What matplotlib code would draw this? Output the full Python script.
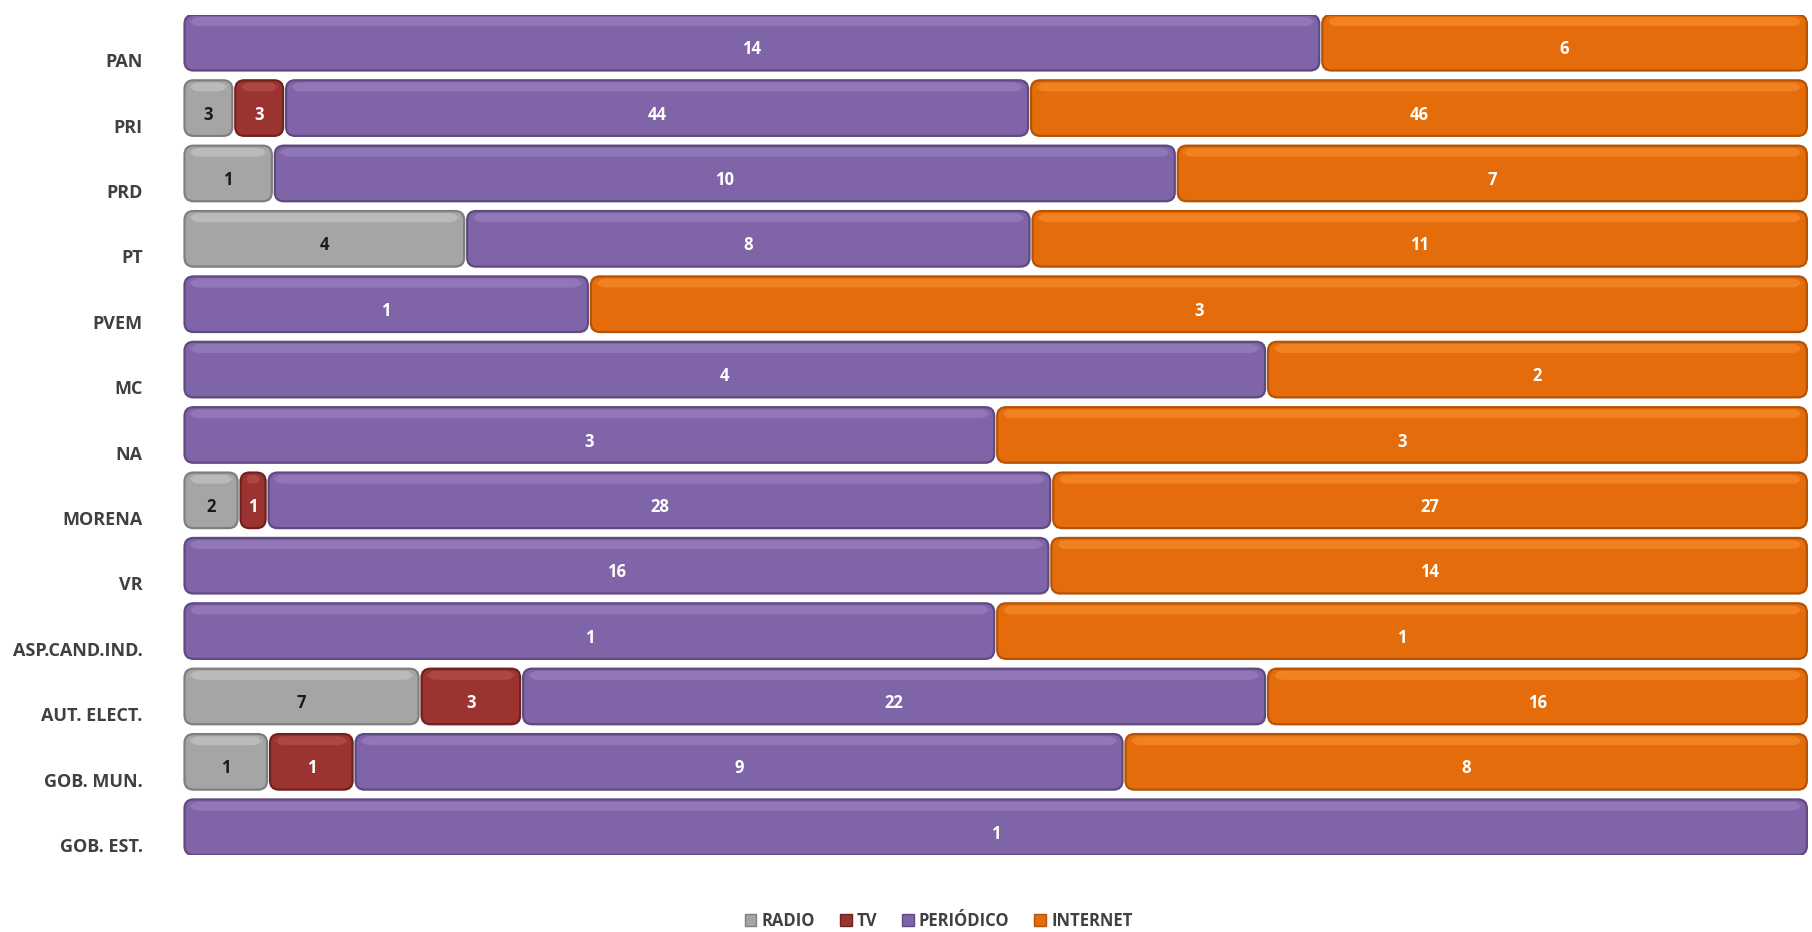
import matplotlib
matplotlib.use("Agg")
import matplotlib.pyplot as plt
from matplotlib.patches import FancyBboxPatch, Patch
import numpy as np

categories = ["PAN", "PRI", "PRD", "PT", "PVEM", "MC", "NA", "MORENA", "VR",
              "ASP.CAND.IND.", "AUT. ELECT.", "GOB. MUN.", "GOB. EST."]
series_names = ["RADIO", "TV", "PERIÓDICO", "INTERNET"]
radio     = [0, 3, 1, 4, 0, 0, 0, 2, 0, 0, 7, 1, 0]
tv        = [0, 3, 0, 0, 0, 0, 0, 1, 0, 0, 3, 1, 0]
periodico = [14, 44, 10, 8, 1, 4, 3, 28, 16, 1, 22, 9, 1]
internet  = [6, 46, 7, 11, 3, 2, 3, 27, 14, 1, 16, 8, 0]

colors = ["#A5A5A5", "#9B3431", "#8064A8", "#E46C0A"]
edge_colors = ["#7F7F7F", "#6E2220", "#5F4A80", "#B45308"]
light_colors = ["#C4C4C4", "#B4504C", "#9A80C0", "#F98A2C"]
text_colors = ["#1A1A1A", "white", "white", "white"]

plt.rcParams['font.family'] = ['Open Sans', 'DejaVu Sans']

fig = plt.figure(figsize=(18.12, 9.32), dpi=100)
ax = fig.add_axes([0.101, 0.0826, 0.897, 0.9014])

data = np.array([radio, tv, periodico, internet], dtype=float)
totals = data.sum(axis=0)
frac = data / totals
y = np.arange(len(categories))
bar_h = 0.85

ax.set_xlim(0, 1)
ax.set_ylim(len(categories) - 1 + bar_h / 2, -bar_h / 2)

ax_w_px = 0.897 * 1812
ax_h_px = 0.9014 * 932
x_per_px = 1.0 / ax_w_px
y_per_px = (len(categories) - 1 + bar_h) / ax_h_px
aspect = y_per_px / x_per_px

left = np.zeros(len(categories))
for i, name in enumerate(series_names):
    bars = ax.barh(y, frac[i], left=left, height=bar_h, color=colors[i], label=name)
    for j, rect in enumerate(bars):
        val = data[i, j]
        rect.set_visible(False)
        if val <= 0:
            continue
        x0, y0 = rect.get_x(), rect.get_y()
        w, h = rect.get_width(), rect.get_height()
        r = min(9 * x_per_px, w / 2.2)
        p = FancyBboxPatch((x0 + 1.5 * x_per_px, y0), w - 3 * x_per_px, h,
                           boxstyle=f"round,pad=0,rounding_size={r}",
                           mutation_aspect=aspect,
                           facecolor=colors[i], edgecolor=edge_colors[i],
                           linewidth=1.6, zorder=2)
        ax.add_patch(p)
        hh = h * 0.16
        p2 = FancyBboxPatch((x0 + 1.5 * x_per_px + r * 0.6, y0 + h * 0.04),
                            max(w - 3 * x_per_px - r * 1.2, 1e-4), hh,
                            boxstyle=f"round,pad=0,rounding_size={min(r, w / 4)}",
                            mutation_aspect=aspect,
                            facecolor=light_colors[i], edgecolor="none",
                            alpha=0.7, zorder=3)
        ax.add_patch(p2)
        ax.text(x0 + w / 2, y[j] + 0.1, f"{int(val)}", ha="center", va="center",
                color=text_colors[i], fontsize=12, fontweight="bold", zorder=4)
    left = left + frac[i]

# category labels sit slightly below bar centres (3D perspective)
ax.set_yticks(y + 0.27)
ax.set_yticklabels(categories, fontsize=13, fontweight="bold", color="#404040")
ax.tick_params(axis="y", length=0, pad=29)
ax.set_xticks([])
for s in ax.spines.values():
    s.set_visible(False)

handles = [Patch(facecolor=colors[i], edgecolor=edge_colors[i]) for i in range(4)]
leg = fig.legend(handles, series_names, loc="center", bbox_to_anchor=(0.518, 0.012),
                 ncol=4, frameon=False, handlelength=0.7, handleheight=0.7,
                 handletextpad=0.3, columnspacing=1.5,
                 prop={"weight": "bold", "size": 12})
for t in leg.get_texts():
    t.set_color("#404040")

fig.savefig("out.png", dpi=100, facecolor="white")
